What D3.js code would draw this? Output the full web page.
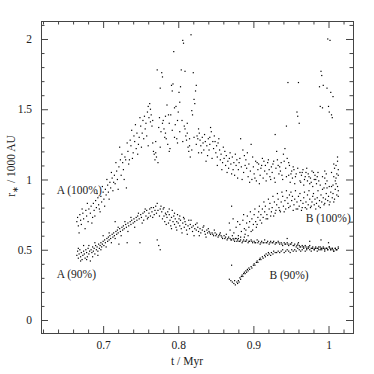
<!DOCTYPE html>
<html>
<head>
<meta charset="utf-8">
<script src="https://cdn.jsdelivr.net/npm/d3@7"></script>
<style>
html,body{margin:0;padding:0;background:#fff;}
svg{display:block;}
</style>
</head>
<body>
<svg id="chart" width="374" height="374"></svg>
<script>
// ---- data (t in Myr, r in 1000 AU) ----
const xMajorTicks = [0.7, 0.8, 0.9, 1.0];
const xTickLabels = ["0.7", "0.8", "0.9", "1"];
const xMinorTicks = [0.62,0.64,0.66,0.68,0.72,0.74,0.76,0.78,0.82,0.84,0.86,0.88,0.92,0.94,0.96,0.98,1.02];
const yMajorTicks = [0, 0.5, 1, 1.5, 2];
const yTickLabels = ["0", "0.5", "1", "1.5", "2"];
const yMinorTicks = [0.1,0.2,0.3,0.4,0.6,0.7,0.8,0.9,1.1,1.2,1.3,1.4,1.6,1.7,1.8,1.9,2.1];
const seriesNames = ["A (100%)", "A (90%)", "B (100%)", "B (90%)"];

const seriesA100 = [
[0.665,0.70],[0.666,0.73],[0.667,0.67],[0.669,0.75],[0.670,0.71],[0.671,0.68],[0.673,0.76],[0.674,0.72],[0.676,0.65],[0.677,0.78],[0.678,0.74],[0.680,0.70],[0.681,0.79],[0.683,0.76],[0.684,0.81],[0.686,0.73],[0.687,0.83],[0.688,0.78],[0.690,0.85],[0.691,0.80],[0.693,0.87],[0.694,0.82],[0.696,0.77],[0.697,0.88],[0.698,0.84],[0.700,0.91],[0.701,0.86],
[0.703,0.93],[0.704,0.89],[0.706,0.96],[0.707,0.91],[0.709,0.98],[0.710,0.94],[0.712,1.01],[0.713,0.92],[0.715,1.03],[0.716,0.97],[0.718,1.06],[0.719,1.00],[0.721,1.09],[0.722,1.23],[0.723,1.14],[0.724,1.03],[0.726,1.12],[0.727,1.07],[0.729,1.16],[0.730,1.14],[0.731,0.94],[0.733,1.20],[0.734,1.11],[0.735,1.14],[0.736,1.28],[0.737,1.24],[0.738,1.35],[0.740,1.19],[0.741,1.31],[0.742,1.27],[0.744,1.22],[0.745,1.33],[0.747,1.25],[0.748,1.30],
[0.750,1.38],[0.751,1.23],[0.753,1.42],[0.754,1.29],[0.755,1.45],[0.756,1.36],[0.757,1.40],[0.759,1.48],[0.760,1.52],[0.761,1.44],[0.762,1.54],[0.763,1.50],[0.764,1.46],[0.765,1.38],[0.766,1.42],[0.767,1.20],[0.768,1.18],[0.769,1.14],[0.770,1.19],[0.771,1.16],[0.772,1.78],[0.774,1.37],[0.775,1.44],[0.776,1.65],[0.777,1.34],[0.778,1.76],[0.779,1.73],[0.780,1.42],[0.781,1.36],[0.782,1.30],[0.783,1.33],[0.784,1.29],[0.786,1.25],[0.787,1.46],[0.788,1.40],[0.789,1.22],[0.790,1.46],
[0.791,1.67],[0.792,1.63],[0.793,1.68],[0.794,1.91],[0.795,1.51],[0.796,1.39],[0.797,1.52],[0.798,1.29],[0.799,1.26],[0.800,1.48],[0.801,1.62],[0.802,1.55],[0.803,1.66],[0.804,1.78],[0.805,1.42],[0.806,1.99],[0.807,1.97],[0.808,1.38],[0.809,1.77],[0.810,1.31],[0.811,1.28],[0.812,1.33],[0.813,1.23],[0.814,1.20],[0.815,1.24],[0.816,1.16],[0.817,2.03],[0.818,1.49],[0.819,1.46],[0.820,1.76],[0.821,1.57],[0.822,1.54],[0.823,1.63],[0.824,1.67],[0.825,1.31],[0.826,1.29],[0.827,1.19],
[0.828,1.33],[0.829,1.28],[0.830,1.24],[0.832,1.30],[0.833,1.26],[0.834,1.21],[0.836,1.27],[0.837,1.13],[0.838,1.24],[0.840,1.29],[0.841,1.21],[0.842,1.25],[0.843,1.37],[0.844,1.34],[0.846,1.27],[0.847,1.22],[0.848,1.31],[0.850,1.19],[0.851,1.24],[0.852,1.16],[0.853,1.26],[0.855,1.21],[0.856,1.14],[0.857,1.18],[0.859,1.12],[0.860,1.23],[0.861,1.15],[0.863,1.10],[0.864,1.17],[0.866,1.13],[0.867,1.08],[0.868,1.15],[0.870,1.11],[0.871,1.04],[0.872,1.16],[0.874,1.12],[0.875,1.03],
[0.877,1.10],[0.878,1.14],[0.880,1.07],[0.881,1.12],[0.883,1.29],[0.884,1.09],[0.886,1.21],[0.887,1.05],[0.888,1.17],[0.890,1.14],[0.891,1.08],[0.893,1.02],[0.894,1.11],[0.896,1.06],[0.897,1.25],[0.898,1.00],[0.900,1.09],[0.901,1.04],[0.903,1.13],[0.904,0.99],[0.906,1.07],[0.907,1.11],[0.909,1.03],[0.910,1.08],[0.912,1.15],[0.913,1.01],[0.915,1.06],[0.916,1.10],[0.918,1.04],[0.919,1.12],[0.921,1.07],[0.922,1.02],[0.924,1.09],[0.925,1.05],[0.927,1.13],[0.928,1.01],[0.929,1.32],[0.930,1.08],[0.931,1.20],[0.933,1.10],[0.934,1.04],
[0.936,1.06],[0.937,1.12],[0.939,1.00],[0.940,1.18],[0.942,1.22],[0.943,1.08],[0.944,1.38],[0.945,1.15],[0.946,1.69],[0.947,1.03],[0.948,1.10],[0.949,0.98],[0.951,1.06],[0.952,1.01],[0.954,1.07],[0.955,0.97],[0.957,1.04],[0.958,1.48],[0.959,1.45],[0.960,1.69],[0.961,1.40],[0.962,1.05],[0.963,0.98],[0.964,1.03],[0.966,1.07],[0.967,0.96],[0.969,1.02],[0.970,1.05],[0.972,0.99],[0.973,1.04],[0.975,0.97],[0.976,1.01],[0.978,1.06],[0.979,0.95],[0.981,1.00],[0.982,1.03],[0.984,0.97],[0.985,1.02],[0.987,0.99],[0.988,1.66],[0.989,1.52],[0.990,1.77],[0.991,1.74],[0.992,1.51],[0.993,1.67],[0.994,0.94],
[0.995,1.01],[0.996,0.97],[0.997,1.04],[0.998,1.65],[0.999,2.00],[1.000,1.52],[1.001,1.48],[1.002,1.99],[1.003,1.62],[1.004,1.46],[1.005,1.44],[1.006,0.96],[1.007,1.02],[1.008,1.08],[1.009,0.99],[1.010,1.10],[1.011,1.04],[1.012,1.13],[1.013,1.07],[1.006,1.59],
[0.668,0.62],[0.672,0.79],[0.679,0.83],[0.685,0.69],[0.689,0.74],[0.692,0.90],[0.695,0.79],[0.699,0.95],[0.702,0.81],[0.705,1.00],[0.708,0.86],[0.711,1.05],[0.714,0.98],[0.717,1.12],[0.720,0.93],[0.725,1.18],[0.728,1.00],[0.732,1.26],[0.739,1.15],[0.743,1.39],[0.746,1.18],[0.749,1.44],[0.752,1.33],[0.758,1.31],[0.760,1.24],[0.763,1.41],[0.766,1.26],[0.770,1.27],[0.773,1.12],[0.776,1.23],[0.779,1.40],[0.783,1.45],[0.785,1.53],[0.788,1.20],[0.792,1.35],[0.795,1.30],[0.799,1.42],[0.802,1.34],[0.806,1.27],[0.809,1.36],[0.812,1.40],[0.815,1.29],[0.818,1.21],[0.821,1.30],[0.824,1.25],[0.827,1.36],[0.831,1.19],[0.835,1.32],[0.839,1.17],[0.842,1.30],[0.845,1.15],[0.849,1.27],[0.852,1.10],[0.854,1.29],[0.858,1.07],[0.862,1.20],[0.865,1.05],[0.869,1.19],[0.873,1.07],[0.876,1.18],[0.879,1.01],[0.882,1.15],[0.885,1.00],[0.889,1.10],[0.892,1.19],[0.895,0.98],[0.899,1.16],[0.902,1.01],[0.905,1.12],[0.908,0.97],[0.911,1.10],[0.914,1.13],[0.917,0.99],[0.920,1.14],[0.923,1.00],[0.926,1.11],[0.929,0.98],[0.932,1.14],[0.935,1.09],[0.938,1.03],[0.941,1.13],[0.944,1.02],[0.947,1.12],[0.950,1.04],[0.953,1.09],[0.956,1.02],[0.959,1.08],[0.962,0.99],[0.965,1.05],[0.968,1.00],[0.971,1.08],[0.974,1.02],[0.977,0.98],[0.980,1.05],[0.983,1.00],[0.986,1.05],[0.989,0.96],[0.992,1.02],[0.995,1.06],[0.998,0.99],[1.001,0.95],[1.004,1.05],[1.007,1.11],[1.010,1.01],[1.012,1.16],[1.013,1.03]
];

const seriesA90 = [
[0.665,0.46],[0.666,0.49],[0.667,0.44],[0.668,0.47],[0.669,0.50],[0.670,0.45],[0.671,0.48],[0.672,0.43],[0.673,0.46],[0.674,0.49],[0.675,0.47],[0.676,0.44],[0.677,0.50],[0.678,0.48],[0.679,0.45],[0.680,0.51],[0.681,0.47],[0.682,0.49],[0.683,0.42],[0.684,0.50],[0.685,0.48],[0.686,0.52],[0.687,0.49],[0.688,0.51],[0.689,0.47],[0.690,0.53],[0.691,0.50],[0.692,0.52],[0.693,0.49],[0.694,0.54],[0.695,0.51],[0.696,0.53],[0.697,0.55],[0.698,0.52],[0.699,0.54],[0.700,0.56],
[0.701,0.53],[0.702,0.57],[0.703,0.55],[0.705,0.58],[0.706,0.56],[0.707,0.59],[0.708,0.57],[0.709,0.60],[0.710,0.58],[0.712,0.61],[0.713,0.59],[0.714,0.62],[0.715,0.60],[0.716,0.70],[0.717,0.63],[0.718,0.61],[0.719,0.64],[0.720,0.62],[0.721,0.54],[0.722,0.65],[0.723,0.63],[0.725,0.66],[0.726,0.64],[0.727,0.67],[0.728,0.65],[0.730,0.68],[0.731,0.66],[0.732,0.55],[0.733,0.69],[0.734,0.67],[0.736,0.70],[0.737,0.68],[0.738,0.71],[0.740,0.69],[0.741,0.72],[0.742,0.70],[0.744,0.73],[0.745,0.71],[0.746,0.74],[0.748,0.72],[0.749,0.55],[0.750,0.75],[0.751,0.73],[0.753,0.76],[0.754,0.71],[0.755,0.77],[0.757,0.74],[0.758,0.78],[0.759,0.72],[0.761,0.76],[0.762,0.79],[0.763,0.74],[0.765,0.77],[0.766,0.73],[0.767,0.80],[0.768,0.75],[0.770,0.81],[0.771,0.76],[0.772,0.57],[0.773,0.78],[0.774,0.53],[0.775,0.74],[0.776,0.50],[0.777,0.81],[0.778,0.77],
[0.779,0.72],[0.780,0.79],[0.781,0.74],[0.782,0.70],[0.783,0.76],[0.784,0.68],[0.785,0.73],[0.786,0.77],[0.787,0.69],[0.788,0.75],[0.789,0.71],[0.790,0.67],[0.791,0.73],[0.792,0.78],[0.793,0.70],[0.794,0.74],[0.795,0.68],[0.796,0.72],[0.797,0.66],[0.798,0.70],[0.799,0.75],[0.800,0.69],[0.801,0.72],[0.802,0.67],[0.803,0.71],[0.804,0.65],[0.806,0.69],[0.807,0.73],[0.808,0.66],[0.809,0.70],[0.810,0.68],[0.811,0.64],[0.813,0.67],[0.814,0.71],[0.815,0.65],[0.816,0.68],[0.818,0.66],[0.819,0.63],[0.820,0.67],[0.822,0.65],[0.823,0.68],[0.824,0.64],[0.826,0.66],[0.827,0.63],[0.829,0.65],[0.830,0.62],[0.832,0.64],[0.833,0.66],[0.835,0.63],[0.836,0.61],[0.838,0.64],[0.839,0.62],
[0.841,0.63],[0.843,0.61],[0.845,0.62],[0.847,0.60],[0.849,0.62],[0.851,0.61],[0.853,0.59],[0.855,0.61],[0.857,0.60],[0.859,0.58],[0.861,0.60],[0.863,0.59],[0.865,0.57],[0.867,0.59],[0.869,0.58],[0.871,0.57],[0.873,0.58],[0.875,0.56],[0.877,0.58],[0.879,0.57],[0.881,0.56],[0.883,0.57],[0.885,0.55],[0.887,0.57],[0.889,0.56],[0.891,0.57],[0.893,0.55],[0.895,0.56],[0.897,0.57],[0.899,0.55],[0.901,0.56],[0.903,0.55],[0.905,0.57],[0.907,0.56],[0.909,0.54],[0.911,0.56],[0.913,0.55],[0.915,0.57],[0.917,0.55],[0.919,0.56],[0.921,0.54],[0.923,0.56],[0.925,0.55],[0.927,0.56],[0.929,0.54],[0.931,0.55],[0.933,0.56],[0.935,0.54],[0.937,0.55],[0.939,0.53],[0.941,0.55],[0.943,0.54],[0.945,0.55],[0.947,0.53],[0.949,0.54],[0.951,0.55],[0.953,0.53],[0.955,0.54],[0.957,0.52],[0.959,0.54],[0.961,0.53],[0.963,0.52],[0.965,0.53],[0.967,0.52],[0.969,0.53],[0.971,0.51],[0.973,0.52],[0.975,0.53],[0.977,0.51],[0.979,0.52],[0.981,0.50],[0.983,0.52],[0.985,0.51],[0.987,0.52],[0.989,0.50],[0.991,0.51],[0.993,0.52],[0.995,0.50],[0.997,0.51],[0.999,0.50],[1.001,0.52],[1.003,0.50],[1.005,0.51],[1.007,0.49],[1.009,0.51],[1.011,0.50],[1.013,0.51],
[0.842,0.62],[0.846,0.61],[0.850,0.60],[0.854,0.60],[0.858,0.59],[0.862,0.58],[0.866,0.58],[0.870,0.57],[0.874,0.57],[0.878,0.56],[0.882,0.56],[0.886,0.56],[0.890,0.56],[0.894,0.56],[0.898,0.56],[0.902,0.55],[0.906,0.55],[0.910,0.55],[0.914,0.55],[0.918,0.55],[0.922,0.55],[0.926,0.55],[0.930,0.55],[0.934,0.55],[0.938,0.54],[0.942,0.54],[0.946,0.54],[0.950,0.54],[0.954,0.53],[0.958,0.53],[0.962,0.52],[0.966,0.52],[0.970,0.52],[0.974,0.52],[0.978,0.51],[0.982,0.51],[0.986,0.51],[0.990,0.51],[0.994,0.51],[0.998,0.51],[1.002,0.51],[1.006,0.50],[1.010,0.50],
[0.667,0.51],[0.670,0.42],[0.674,0.53],[0.678,0.43],[0.681,0.53],[0.686,0.45],[0.689,0.55],[0.693,0.46],[0.697,0.50],[0.700,0.60],[0.704,0.52],[0.708,0.62],[0.711,0.55],[0.716,0.58],[0.720,0.66],[0.724,0.60],[0.729,0.70],[0.733,0.63],[0.737,0.73],[0.742,0.66],[0.747,0.76],[0.752,0.69],[0.756,0.79],[0.760,0.73],[0.764,0.80],[0.769,0.78],[0.772,0.83],[0.776,0.79],[0.781,0.80],[0.784,0.75],[0.788,0.79],[0.791,0.65],[0.795,0.76],[0.798,0.64],[0.802,0.74],[0.805,0.62],[0.808,0.72],[0.812,0.61],[0.817,0.71],[0.821,0.60],[0.825,0.69],[0.828,0.60],[0.834,0.67],[0.837,0.59],[0.840,0.65],[0.848,0.64],[0.856,0.62],[0.864,0.61],[0.872,0.60],[0.880,0.58],[0.888,0.59]
];

const seriesB100 = [
[0.868,0.69],[0.871,0.81],[0.874,0.62],[0.877,0.66],[0.880,0.60],[0.882,0.68],[0.884,0.63],[0.886,0.71],[0.888,0.65],[0.889,0.61],[0.891,0.69],[0.892,0.74],[0.894,0.66],[0.895,0.70],[0.897,0.63],[0.898,0.72],[0.900,0.68],[0.901,0.75],[0.903,0.70],[0.904,0.66],[0.906,0.73],[0.907,0.77],
[0.909,0.71],[0.910,0.75],[0.912,0.79],[0.913,0.73],[0.915,0.77],[0.916,0.81],[0.918,0.75],[0.919,0.72],[0.921,0.79],[0.922,0.83],[0.924,0.77],[0.925,0.80],[0.927,0.74],[0.928,0.84],[0.930,0.78],[0.931,0.82],[0.933,0.86],[0.934,0.80],[0.936,0.77],[0.937,0.84],[0.939,0.88],[0.940,0.81],[0.942,0.85],[0.943,0.79],[0.945,0.87],[0.946,0.83],[0.948,0.89],[0.949,0.81],
[0.951,0.85],[0.952,0.88],[0.954,0.82],[0.955,0.86],[0.957,0.79],[0.958,0.84],[0.960,0.88],[0.961,0.81],[0.963,0.85],[0.964,0.78],[0.966,0.83],[0.967,0.87],[0.969,0.80],[0.970,0.84],[0.972,0.89],[0.973,0.82],[0.975,0.86],[0.976,0.80],[0.978,0.84],[0.979,0.88],[0.981,0.82],[0.982,0.86],[0.984,0.83],[0.985,0.87],[0.987,0.81],[0.988,0.85],[0.990,0.89],[0.991,0.84],[0.993,0.87],[0.994,0.82],[0.996,0.86],[0.997,0.90],[0.999,0.85],[1.000,0.88],[1.002,0.84],[1.003,0.91],[1.005,0.87],[1.006,0.90],[1.008,0.86],[1.009,0.93],[1.011,0.89],[1.012,0.95],[1.013,0.92],
[0.869,0.64],[0.873,0.72],[0.876,0.58],[0.879,0.70],[0.883,0.59],[0.887,0.75],[0.890,0.64],[0.893,0.60],[0.896,0.77],[0.899,0.64],[0.902,0.79],[0.905,0.68],[0.908,0.81],[0.911,0.69],[0.914,0.84],[0.917,0.72],[0.920,0.86],[0.923,0.74],[0.926,0.88],[0.929,0.76],[0.932,0.90],[0.935,0.78],[0.938,0.91],[0.941,0.77],[0.944,0.92],[0.947,0.80],[0.950,0.91],[0.953,0.78],[0.956,0.92],[0.959,0.79],[0.962,0.90],[0.965,0.80],[0.968,0.91],[0.971,0.79],[0.974,0.92],[0.977,0.81],[0.980,0.90],[0.983,0.79],[0.986,0.92],[0.989,0.80],[0.992,0.93],[0.995,0.83],[0.998,0.94],[1.001,0.82],[1.004,0.95],[1.007,0.84],[1.010,0.97],[1.013,0.88]
];

const seriesB90 = [
[0.868,0.29],[0.870,0.28],[0.871,0.39],[0.872,0.27],[0.874,0.26],[0.875,0.28],[0.876,0.25],[0.878,0.27],[0.879,0.26],[0.880,0.28],[0.881,0.27],[0.882,0.30],[0.883,0.29],[0.884,0.31],[0.885,0.32],[0.886,0.31],[0.887,0.33],[0.888,0.34],[0.889,0.33],[0.890,0.35],[0.891,0.34],[0.892,0.36],[0.893,0.35],[0.894,0.37],[0.895,0.36],
[0.897,0.38],[0.898,0.37],[0.900,0.39],[0.901,0.40],[0.902,0.39],[0.904,0.41],[0.905,0.42],[0.906,0.41],[0.908,0.43],[0.909,0.44],[0.910,0.43],[0.912,0.45],[0.913,0.44],[0.915,0.46],[0.916,0.45],[0.917,0.47],[0.919,0.46],[0.920,0.48],[0.921,0.47],[0.923,0.46],[0.924,0.48],[0.926,0.47],[0.927,0.49],[0.929,0.48],
[0.931,0.48],[0.933,0.49],[0.935,0.48],[0.937,0.49],[0.939,0.50],[0.941,0.48],[0.943,0.49],[0.945,0.50],[0.947,0.49],[0.949,0.48],[0.951,0.50],[0.953,0.49],[0.955,0.50],[0.957,0.49],[0.959,0.51],[0.961,0.50],[0.963,0.49],[0.965,0.50],[0.967,0.51],[0.969,0.49],[0.971,0.50],[0.973,0.51],[0.975,0.50],[0.977,0.49],[0.979,0.51],[0.981,0.50],[0.983,0.51],[0.985,0.49],[0.987,0.50],[0.989,0.52],[0.991,0.50],[0.993,0.51],[0.995,0.49],[0.997,0.51],[0.999,0.50],[1.001,0.52],[1.003,0.50],[1.005,0.51],[1.007,0.49],[1.009,0.51],[1.011,0.50],[1.013,0.52],
[0.945,0.58],[0.960,0.55],[0.975,0.56],[0.990,0.57],[1.000,0.55]
];

// ---- layout ----
const W = 374, H = 374;
const margin = {left: 41, right: 21, top: 21, bottom: 41};
const FONT = "'Liberation Serif', 'Times New Roman', serif";
const fs = 11.5;
const svg = d3.select("#chart");
svg.append("rect").attr("width", W).attr("height", H).attr("fill", "#fff");

const x = d3.scaleLinear().domain([0.6173, 1.0326]).range([margin.left, W - margin.right]);
const y = d3.scaleLinear().domain([-0.0925, 2.128]).range([H - margin.bottom, margin.top]);

const axisColor = "#444";
const majorLen = 7, minorLen = 3.5;

function styleAxis(g) {
  g.attr("font-family", null).attr("font-size", null);
  g.select(".domain").remove();
  g.selectAll("line").attr("stroke", axisColor).attr("stroke-width", 1);
  g.selectAll("text").style("font-family", FONT).style("font-size", fs + "px").attr("fill", "#222");
}

const bottomY = H - margin.bottom, topY = margin.top;
const leftX = margin.left, rightX = W - margin.right;

// bottom
svg.append("g").attr("transform", `translate(0,${bottomY})`)
  .call(d3.axisBottom(x).tickValues(xMajorTicks).tickSize(-majorLen).tickSizeOuter(0).tickPadding(8)
    .tickFormat((d, i) => xTickLabels[i])).call(styleAxis);
svg.append("g").attr("transform", `translate(0,${bottomY})`)
  .call(d3.axisBottom(x).tickValues(xMinorTicks).tickSize(-minorLen).tickSizeOuter(0).tickFormat("")).call(styleAxis);
// top
svg.append("g").attr("transform", `translate(0,${topY})`)
  .call(d3.axisTop(x).tickValues(xMajorTicks).tickSize(-majorLen).tickSizeOuter(0).tickFormat("")).call(styleAxis);
svg.append("g").attr("transform", `translate(0,${topY})`)
  .call(d3.axisTop(x).tickValues(xMinorTicks).tickSize(-minorLen).tickSizeOuter(0).tickFormat("")).call(styleAxis);
// left
svg.append("g").attr("transform", `translate(${leftX},0)`)
  .call(d3.axisLeft(y).tickValues(yMajorTicks).tickSize(-majorLen).tickSizeOuter(0).tickPadding(9)
    .tickFormat((d, i) => yTickLabels[i])).call(styleAxis);
svg.append("g").attr("transform", `translate(${leftX},0)`)
  .call(d3.axisLeft(y).tickValues(yMinorTicks).tickSize(-minorLen).tickSizeOuter(0).tickFormat("")).call(styleAxis);
// right
svg.append("g").attr("transform", `translate(${rightX},0)`)
  .call(d3.axisRight(y).tickValues(yMajorTicks).tickSize(-majorLen).tickSizeOuter(0).tickFormat("")).call(styleAxis);
svg.append("g").attr("transform", `translate(${rightX},0)`)
  .call(d3.axisRight(y).tickValues(yMinorTicks).tickSize(-minorLen).tickSizeOuter(0).tickFormat("")).call(styleAxis);

// frame
svg.append("rect")
  .attr("x", leftX + 0.5).attr("y", topY + 0.5)
  .attr("width", rightX - leftX).attr("height", bottomY - topY)
  .attr("fill", "none").attr("stroke", axisColor).attr("stroke-width", 1);

// points
const allSeries = [seriesA100, seriesA90, seriesB100, seriesB90];
const pts = svg.append("g");
allSeries.forEach((s, k) => {
  pts.append("g").attr("class", "series-" + k)
    .selectAll("rect").data(s).join("rect")
    .attr("x", d => x(d[0]) - 0.6).attr("y", d => y(d[1]) - 0.6)
    .attr("width", 1.2).attr("height", 1.2).attr("fill", "#000");
});

function label(sel) {
  return sel.style("font-family", FONT).style("font-size", fs + "px").attr("fill", "#222");
}

// series labels
svg.append("text").attr("x", x(0.6382)).attr("y", y(0.90)).call(label).text(seriesNames[0]);
svg.append("text").attr("x", x(0.6382)).attr("y", y(0.30)).call(label).text(seriesNames[1]);
svg.append("text").attr("x", x(1.0296)).attr("y", y(0.70)).attr("text-anchor", "end").call(label).text(seriesNames[2]);
svg.append("text").attr("x", x(0.9213)).attr("y", y(0.29)).call(label).text(seriesNames[3]);

// axis titles
svg.append("text").attr("x", 187).attr("y", 365).attr("text-anchor", "middle").call(label).text("t / Myr");
const yt = svg.append("text").attr("text-anchor", "start").call(label);
yt.append("tspan").text("r");
yt.append("tspan").style("font-size", "8px").attr("dy", 2.5).text("∗");
yt.append("tspan").attr("dy", -2.5).text(" / 1000 AU");
const ylen = yt.node().getComputedTextLength();
yt.attr("transform", `translate(15,${166 + ylen / 2}) rotate(-90)`);
</script>
</body>
</html>
